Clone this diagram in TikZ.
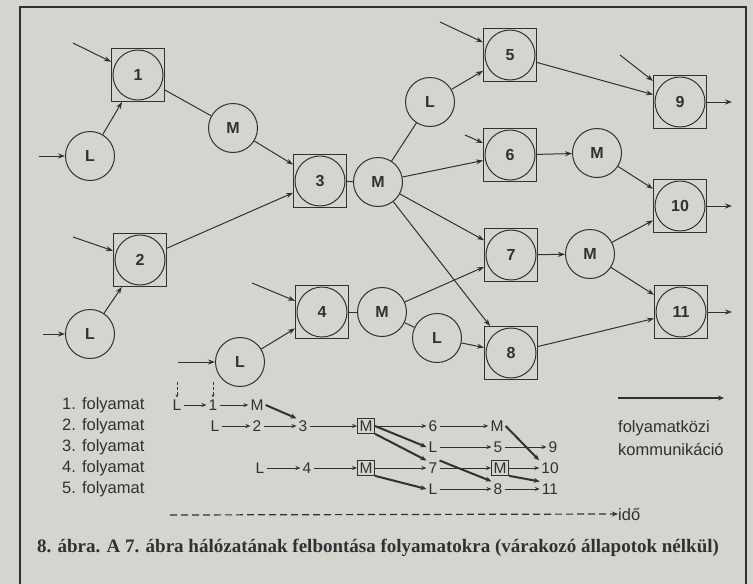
\documentclass[tikz,border=0pt]{standalone}
\usepackage{fontspec}
\setmainfont{Liberation Serif}
\setsansfont{Liberation Sans}
\usetikzlibrary{arrows.meta}

\definecolor{paper}{RGB}{214,212,206}
\definecolor{ink}{RGB}{50,48,52}

\begin{document}
\begin{tikzpicture}[
    x=1pt, y=-1pt,
    >={Stealth[length=7pt,width=5pt]},
    task/.style={draw=ink, line width=1pt, minimum size=53pt, inner sep=0pt,
        font=\sffamily\bfseries\fontsize{16}{16}\selectfont, text=ink},
    circ/.style={circle, draw=ink, line width=1pt, minimum size=49pt, inner sep=0pt,
        font=\sffamily\bfseries\fontsize{16}{16}\selectfont, text=ink},
    flow/.style={->, draw=ink, line width=1pt},
    link/.style={draw=ink, line width=1pt},
    tl/.style={inner sep=2pt, font=\sffamily\fontsize{15.5}{15.5}\selectfont, text=ink},
    tlbox/.style={tl, draw=ink, line width=1pt, inner sep=2pt},
    seqarrow/.style={->, draw=ink, line width=1pt, >={Stealth[length=5pt,width=4pt]}},
    comm/.style={->, draw=ink, line width=2pt, >={Stealth[length=6pt,width=5pt]}},
    note/.style={anchor=west, inner sep=0pt, font=\sffamily\fontsize{16.5}{16.5}\selectfont, text=ink}
]
\fill[paper] (0,0) rectangle (753,584);
\useasboundingbox (0,0) rectangle (753,584);
\draw[ink, line width=1.2pt] (20,584) -- (20,7) -- (746,7) -- (746,584);

% network
\node[task] (n1) at (138,75) {1};
\node[task] (n2) at (140,260) {2};
\node[task] (n3) at (320,181) {3};
\node[task] (n4) at (322,312) {4};
\node[task] (n5) at (510,55) {5};
\node[task] (n6) at (510,155) {6};
\node[task] (n7) at (511,255) {7};
\node[task] (n8) at (511,353) {8};
\node[task] (n9) at (680,102) {9};
\node[task] (n10) at (680,206) {10};
\node[task] (n11) at (681,312) {11};
\foreach \n in {n1,n2,n3,n4,n5,n6,n7,n8,n9,n10,n11}
    \draw[ink, line width=1pt] (\n.center) circle (25pt);

\node[circ] (l1) at (90,156) {L};
\node[circ] (l2) at (90,334) {L};
\node[circ] (l3) at (240,362) {L};
\node[circ] (l4) at (430,102) {L};
\node[circ] (l5) at (437,338) {L};
\node[circ] (m1) at (233,128) {M};
\node[circ] (m2) at (378,182) {M};
\node[circ] (m3) at (382,312) {M};
\node[circ] (m4) at (597,153) {M};
\node[circ] (m5) at (590,254) {M};

\coordinate (i1) at (73,43);
\coordinate (i2) at (39,156);
\coordinate (i3) at (73,237);
\coordinate (i4) at (43,334);
\coordinate (i5) at (252,283);
\coordinate (i6) at (178,362);
\coordinate (i7) at (440,22);
\coordinate (i8) at (465,135);
\coordinate (i9) at (620,55);
\coordinate (o9) at (732,102);
\coordinate (o10) at (732,206);
\coordinate (o11) at (732,312);

\draw[flow] (i1) -- (n1);
\draw[flow] (i2) -- (l1);
\draw[flow] (i3) -- (n2);
\draw[flow] (i4) -- (l2);
\draw[flow] (i5) -- (n4);
\draw[flow] (i6) -- (l3);
\draw[flow] (i7) -- (n5);
\draw[flow] (i8) -- (n6);
\draw[flow] (i9) -- (n9);
\draw[flow] (n9) -- (o9);
\draw[flow] (n10) -- (o10);
\draw[flow] (n11) -- (o11);

\draw[flow] (l1) -- (n1);
\draw[link] (n1) -- (m1);
\draw[flow] (m1) -- (n3);
\draw[flow] (l2) -- (n2);
\draw[flow] (n2) -- (n3);
\draw[flow] (l3) -- (n4);
\draw[link] (n3) -- (m2);
\draw[link] (n4) -- (m3);
\draw[link] (m2) -- (l4);
\draw[flow] (l4) -- (n5);
\draw[flow] (m2) -- (n6);
\draw[flow] (m2) -- (n7);
\draw[flow] (m2) -- (n8);
\draw[flow] (m3) -- (n7);
\draw[link] (m3) -- (l5);
\draw[flow] (l5) -- (n8);
\draw[flow] (n5) -- (n9);
\draw[flow] (n6) -- (m4);
\draw[flow] (m4) -- (n10);
\draw[flow] (n7) -- (m5);
\draw[flow] (m5) -- (n10);
\draw[flow] (m5) -- (n11);
\draw[flow] (n8) -- (n11);

% processes in time
\foreach \k/\y in {1/405,2/426,3/447,4/468,5/489}
    \node[note] (f\k) at (62,\y) {\k. folyamat};

\node[tl] (a1) at (177,405) {L};
\node[tl] (a2) at (213,405) {1};
\node[tl] (a3) at (257,405) {M};
\node[tl] (b1) at (215,426) {L};
\node[tl] (b2) at (257,426) {2};
\node[tl] (b3) at (303,426) {3};
\node[tlbox] (b4) at (366,426) {M};
\node[tl] (b5) at (433,426) {6};
\node[tl] (b6) at (497,426) {M};
\node[tl] (c1) at (433,447) {L};
\node[tl] (c2) at (498,447) {5};
\node[tl] (c3) at (553,447) {9};
\node[tl] (d1) at (260,468) {L};
\node[tl] (d2) at (307,468) {4};
\node[tlbox] (d3) at (366,468) {M};
\node[tl] (d4) at (433,468) {7};
\node[tlbox] (d5) at (500,468) {M};
\node[tl] (d6) at (550,468) {10};
\node[tl] (e1) at (433,489) {L};
\node[tl] (e2) at (498,489) {8};
\node[tl] (e3) at (550,489) {11};

\coordinate (u1) at (177,382);
\coordinate (u2) at (213,382);
\draw[densely dashed, ->, draw=ink, line width=0.8pt, >={Stealth[length=3pt,width=3pt]}] (u1) -- (a1);
\draw[densely dashed, ->, draw=ink, line width=0.8pt, >={Stealth[length=3pt,width=3pt]}] (u2) -- (a2);

\draw[seqarrow] (a1) -- (a2);
\draw[seqarrow] (a2) -- (a3);
\draw[seqarrow] (b1) -- (b2);
\draw[seqarrow] (b2) -- (b3);
\draw[seqarrow] (b3) -- (b4);
\draw[seqarrow] (b4) -- (b5);
\draw[seqarrow] (b5) -- (b6);
\draw[seqarrow] (c1) -- (c2);
\draw[seqarrow] (c2) -- (c3);
\draw[seqarrow] (d1) -- (d2);
\draw[seqarrow] (d2) -- (d3);
\draw[seqarrow] (d3) -- (d4);
\draw[seqarrow] (d4) -- (d5);
\draw[seqarrow] (d5) -- (d6);
\draw[seqarrow] (e1) -- (e2);
\draw[seqarrow] (e2) -- (e3);

\draw[comm] (a3.east) -- (b3.north west);
\draw[comm] (b4.east) -- (c1.west);
\draw[comm] (b4.south east) -- (d4.north west);
\draw[comm] (d3.south east) -- (e1.west);
\draw[comm] (b6.east) -- (d6.north west);
\draw[comm] (d4.north east) -- (e2.north west);
\draw[comm] (d5.south east) -- (e3.north west);

% legend
\coordinate (k1) at (618,398);
\coordinate (k2) at (724,398);
\draw[comm, line width=2.4pt] (k1) -- (k2);
\node[note] (k3) at (618,428) {folyamatközi};
\node[note] (k4) at (618,450) {kommunikáció};

\node[note] (t1) at (618,514) {idő};
\coordinate (t0) at (170,515);
\draw[->, dash pattern=on 7pt off 4pt, draw=ink, line width=1.2pt, >={Stealth[length=6pt,width=5pt]}] (t0) -- (t1.west);

\node[inner sep=0pt, text=ink, font=\rmfamily\bfseries\fontsize{19}{19}\selectfont] (cap) at (378,548)
    {8. ábra. A 7. ábra hálózatának felbontása folyamatokra (várakozó állapotok nélkül)};
\end{tikzpicture}
\end{document}
